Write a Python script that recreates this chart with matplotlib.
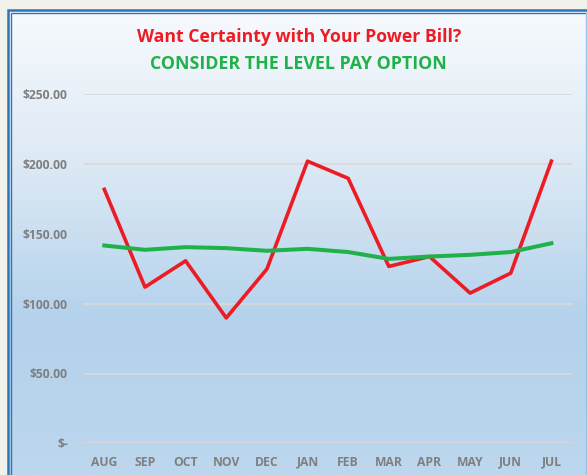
import numpy as np
import matplotlib
matplotlib.use("Agg")
import matplotlib.pyplot as plt
from matplotlib.colors import LinearSegmentedColormap
from matplotlib.ticker import FuncFormatter

plt.rcParams['font.family'] = ['Open Sans', 'DejaVu Sans']

months = ['AUG', 'SEP', 'OCT', 'NOV', 'DEC', 'JAN', 'FEB', 'MAR', 'APR', 'MAY', 'JUN', 'JUL']
actual_bill = [181.9, 111.9, 130.7, 89.8, 124.8, 202.1, 189.8, 126.7, 133.8, 107.6, 121.9, 202.1]
level_pay = [141.7, 138.6, 140.5, 139.8, 137.9, 139.3, 137.0, 132.1, 133.8, 135.0, 137.0, 143.3]
y_ticks = [0, 50, 100, 150, 200, 250]

W, H = 587, 475
fig = plt.figure(figsize=(W / 100, H / 100), dpi=100)
fig.patch.set_facecolor('#f2f2ec')

# background panel with gradient and double blue border (pixel coords)
bg = fig.add_axes([0, 0, 1, 1])
bg.set_xlim(0, W)
bg.set_ylim(H, 0)
bg.axis('off')
grad = LinearSegmentedColormap.from_list('bg', ['#f7fafd', '#dce9f5', '#b4d2ec', '#bcd7ee'])
g = np.linspace(0, 1, 256).reshape(-1, 1)
bg.imshow(g, cmap=grad, extent=[10, 586, H, 12], aspect='auto', zorder=0)
bg.plot([8, 8, W], [H, 10, 10], color='#2e75b6', lw=1.8, zorder=2, solid_joinstyle='miter')
bg.plot([11, 11, W], [H, 13, 13], color='#2e75b6', lw=1.0, zorder=2, solid_joinstyle='miter')
bg.plot([586, 586], [13, H], color='#9dc3e6', lw=1.0, zorder=2)

ax = fig.add_axes([84 / W, (H - 443.3) / H, (571.7 - 84) / W, (443.3 - 94.3) / H])
ax.patch.set_alpha(0)
x = np.arange(len(months))
ax.plot(x, actual_bill, color='#ed1c24', lw=2.6, zorder=3)
ax.plot(x, level_pay, color='#21b14b', lw=2.9, zorder=3)

ax.set_xlim(-0.5, len(months) - 0.5)
ax.set_ylim(0, 250)
ax.set_yticks(y_ticks)
ax.yaxis.set_major_formatter(FuncFormatter(lambda v, p: '$-' if v == 0 else f'${v:,.2f}'))
ax.set_xticks(x)
ax.set_xticklabels(months)
ax.grid(axis='y', color='#d9d9d9', lw=1.3)
ax.set_axisbelow(True)
for s in ax.spines.values():
    s.set_visible(False)
ax.tick_params(length=0, colors='#7f7f7f', labelsize=8.7)
ax.tick_params(axis='y', pad=11.7)
ax.tick_params(axis='x', pad=9)
for lab in ax.get_xticklabels() + ax.get_yticklabels():
    lab.set_fontweight('bold')

fig.text(299.5 / W, 1 - 41.7 / H, 'Want Certainty with Your Power Bill?', ha='center', va='baseline',
         color='#ed1c24', fontsize=12.7, fontweight='bold')
fig.text(298.5 / W, 1 - 69.3 / H, 'CONSIDER THE LEVEL PAY OPTION', ha='center', va='baseline',
         color='#21b14b', fontsize=12.8, fontweight='bold')

fig.savefig('out.png', dpi=100, facecolor=fig.get_facecolor())
